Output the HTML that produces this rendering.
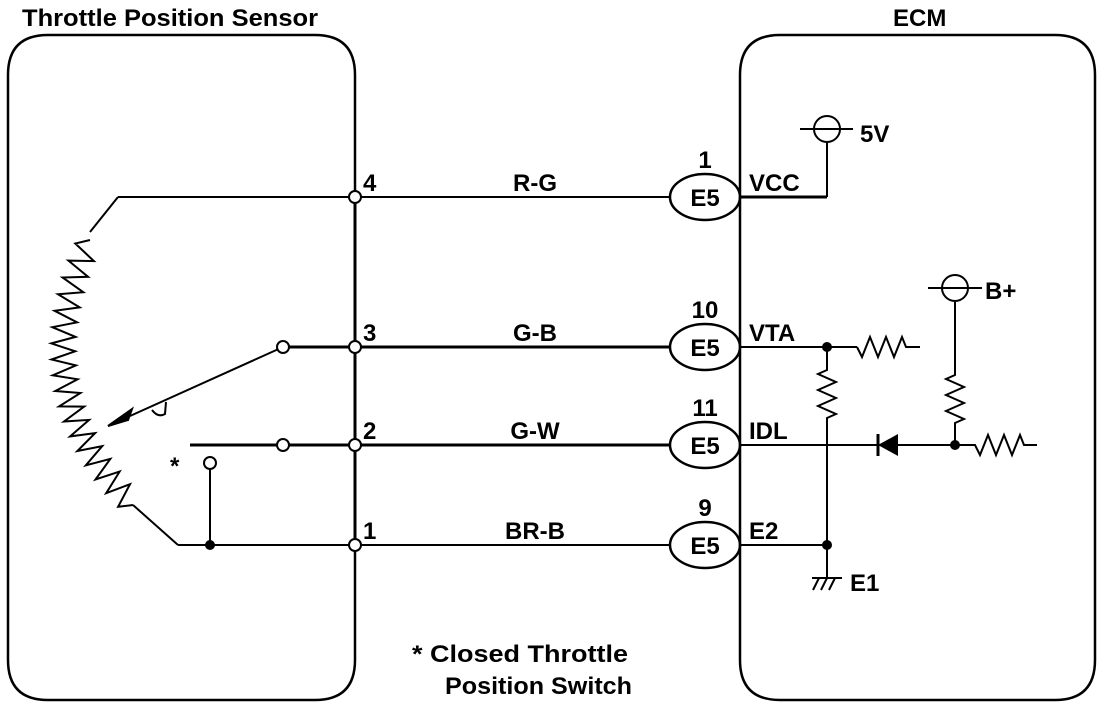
<!DOCTYPE html>
<html><head><meta charset="utf-8"><style>
html,body{margin:0;padding:0;background:#fff;}
svg{display:block;}
text{font-family:"Liberation Sans",Arial,sans-serif;font-size:24px;font-weight:bold;fill:#000;}
</style></head><body>
<svg id="s" width="1120" height="704" viewBox="0 0 1120 704" xmlns="http://www.w3.org/2000/svg">
<g fill="none" stroke="#000" stroke-width="2.5">
<path d="M8,75 Q8,35 48,35 H315 Q355,35 355,75 V660 Q355,700 315,700 H48 Q8,700 8,660 Z"/>
<path d="M740,75 Q740,35 780,35 H1055 Q1095,35 1095,75 V660 Q1095,700 1055,700 H780 Q740,700 740,660 Z"/>
<line x1="355" y1="197" x2="355" y2="545" stroke-width="3"/>
<line x1="118" y1="197" x2="670" y2="197" stroke-width="2"/>
<line x1="283" y1="347" x2="670" y2="347" stroke-width="3"/>
<line x1="190" y1="445" x2="670" y2="445" stroke-width="3"/>
<line x1="178" y1="545" x2="670" y2="545" stroke-width="2"/>
<path d="M118,197 L90,232" stroke-width="2"/>
<path d="M133,505 L178,545" stroke-width="2"/>
<line x1="283" y1="347" x2="130" y2="416" stroke-width="2"/>
<path d="M152,410 Q158,418 165,414 L166,402" stroke-width="2"/>
<line x1="210" y1="463" x2="210" y2="545" stroke-width="2"/>
<line x1="740" y1="197" x2="827" y2="197" stroke-width="3"/>
<line x1="827" y1="197" x2="827" y2="143" stroke-width="2"/>
<line x1="740" y1="347" x2="857" y2="347" stroke-width="2"/>
<path d="M857,347 L862,357 L870,337 L878,357 L886,337 L894,357 L902,337 L906,347 H920" stroke-width="2"/>
<path d="M827,347 V370 L818,374 L836,382 L818,390 L836,398 L818,406 L836,414 L827,418 V578" stroke-width="2"/>
<line x1="740" y1="445" x2="955" y2="445" stroke-width="2"/>
<path d="M955,302 V375 L946,379 L964,387 L946,395 L964,403 L946,411 L964,419 L955,423 V445" stroke-width="2"/>
<path d="M955,445 H975 L980,455 L988,435 L996,455 L1004,435 L1012,455 L1020,435 L1024,445 H1037" stroke-width="2"/>
<line x1="740" y1="545" x2="827" y2="545" stroke-width="2"/>
<line x1="812" y1="578" x2="842" y2="578" stroke-width="2"/>
<path d="M813,590 L819,578 M821,590 L827,578 M829,590 L835,578" stroke-width="2"/>
<line x1="878" y1="434" x2="878" y2="456" stroke-width="3"/>
<ellipse cx="705" cy="197" rx="35" ry="23"/>
<ellipse cx="705" cy="347" rx="35" ry="23"/>
<ellipse cx="705" cy="445" rx="35" ry="23"/>
<ellipse cx="705" cy="545" rx="35" ry="23"/>
<path id="zz" stroke-width="2"/>
</g>
<polygon points="878,445 898,434 898,456" fill="#000"/>
<polygon points="108,426 132,409 128,420" fill="#000" stroke="#000" stroke-width="2"/>
<g fill="#fff" stroke="#000" stroke-width="2">
<circle cx="355" cy="197" r="6"/><circle cx="355" cy="347" r="6"/><circle cx="355" cy="445" r="6"/><circle cx="355" cy="545" r="6"/>
<circle cx="283" cy="347" r="6"/><circle cx="283" cy="445" r="6"/><circle cx="210" cy="463" r="6"/>
<circle cx="827" cy="129" r="13"/><circle cx="955" cy="288" r="13"/>
</g>
<g fill="#000"><circle cx="210" cy="545" r="5"/><circle cx="827" cy="347" r="5"/><circle cx="827" cy="545" r="5"/><circle cx="955" cy="445" r="5"/></g>
<line x1="800" y1="129" x2="853" y2="129" stroke="#000" stroke-width="2"/>
<line x1="928" y1="288" x2="982" y2="288" stroke="#000" stroke-width="2"/>
<text x="22" y="26" textLength="296" lengthAdjust="spacingAndGlyphs">Throttle Position Sensor</text>
<text x="893" y="26">ECM</text>
<text x="363" y="191">4</text><text x="363" y="341">3</text><text x="363" y="439">2</text><text x="363" y="539">1</text>
<text x="535" y="191" text-anchor="middle">R-G</text>
<text x="535" y="341" text-anchor="middle">G-B</text>
<text x="535" y="439" text-anchor="middle">G-W</text>
<text x="535" y="539" text-anchor="middle">BR-B</text>
<g text-anchor="middle">
<text x="705" y="168">1</text><text x="705" y="318">10</text><text x="705" y="416">11</text><text x="705" y="516">9</text>
<text x="705" y="206">E5</text><text x="705" y="356">E5</text><text x="705" y="454">E5</text><text x="705" y="554">E5</text>
</g>
<text x="749" y="191">VCC</text><text x="749" y="341">VTA</text><text x="749" y="439">IDL</text><text x="749" y="539">E2</text>
<text x="860" y="142">5V</text><text x="985" y="299">B+</text><text x="850" y="591">E1</text>
<text x="170" y="474">*</text>
<text x="412" y="662" textLength="216" lengthAdjust="spacingAndGlyphs">* Closed Throttle</text>
<text x="445" y="694" textLength="187" lengthAdjust="spacingAndGlyphs">Position Switch</text>
</svg>
<script>
(function(){
var P0=[90,240],P1=[20,390],P2=[133,505];
function B(t){var u=1-t;return[u*u*P0[0]+2*u*t*P1[0]+t*t*P2[0],u*u*P0[1]+2*u*t*P1[1]+t*t*P2[1]];}
function D(t){var u=1-t;return[2*u*(P1[0]-P0[0])+2*t*(P2[0]-P1[0]),2*u*(P1[1]-P0[1])+2*t*(P2[1]-P1[1])];}
var n=36,d="M"+P0[0]+","+P0[1];
for(var i=1;i<n;i++){var t=i/n,p=B(t),g=D(t),l=Math.hypot(g[0],g[1]);var nx=-g[1]/l,ny=g[0]/l;var s=(i%2?1:-1)*12;d+=" L"+(p[0]+nx*s).toFixed(1)+","+(p[1]+ny*s).toFixed(1);}
d+=" L"+P2[0]+","+P2[1];
document.getElementById("zz").setAttribute("d",d);
})();
</script>
</body></html>
